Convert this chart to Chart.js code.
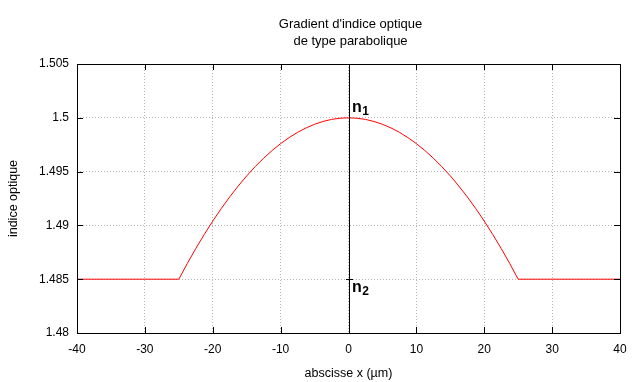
<!DOCTYPE html>
<html>
<head>
<meta charset="utf-8">
<script src="https://cdn.jsdelivr.net/npm/chart.js@4"></script>
<style>
html,body{margin:0;padding:0;background:#fff;}
#wrap{width:638px;height:382px;}
</style>
</head>
<body>
<div id="wrap"><canvas id="c" width="638" height="382"></canvas></div>
<script>
// Data
const titleLines = ["Gradient d'indice optique", "de type parabolique"];
const xTitle = "abscisse x (\u00b5m)";
const yTitle = "indice optique";
const xPositions = [-40, -25, -23.75, -22.5, -21.25, -20, -18.75, -17.5, -16.25, -15, -13.75, -12.5, -11.25,
                    -10, -8.75, -7.5, -6.25, -5, -3.75, -2.5, -1.25, 0,
                    1.25, 2.5, 3.75, 5, 6.25, 7.5, 8.75, 10, 11.25, 12.5, 13.75, 15, 16.25, 17.5, 18.75,
                    20, 21.25, 22.5, 23.75, 25, 40];
const indexValues = [1.485, 1.485, 1.48646, 1.48785, 1.48916, 1.4904, 1.49156, 1.49265, 1.49366, 1.4946, 1.49546, 1.49625, 1.49696,
                     1.4976, 1.49816, 1.49865, 1.49906, 1.4994, 1.49966, 1.49985, 1.49996, 1.5,
                     1.49996, 1.49985, 1.49966, 1.4994, 1.49906, 1.49865, 1.49816, 1.4976, 1.49696, 1.49625, 1.49546, 1.4946, 1.49366, 1.49265, 1.49156,
                     1.4904, 1.48916, 1.48785, 1.48646, 1.485, 1.485];
const xTicks = [-40, -30, -20, -10, 0, 10, 20, 30, 40];
const yTicks = [1.48, 1.485, 1.49, 1.495, 1.5, 1.505];
const annotations = [
  {x: 0, y: 1.5, base: "n", sub: "1", where: "above"},
  {x: 0, y: 1.485, base: "n", sub: "2", where: "below"}
];

const FONT = "'Liberation Sans', Arial, sans-serif";

const framePlugin = {
  id: 'frame',
  afterDraw(chart) {
    const {ctx, chartArea: a, scales} = chart;
    const xs = scales.x, ys = scales.y;
    ctx.save();
    // title
    ctx.fillStyle = '#000';
    ctx.font = '13px ' + FONT;
    ctx.textAlign = 'center';
    ctx.textBaseline = 'alphabetic';
    const cx = (a.left + a.right) / 2 + 2;
    ctx.fillText(titleLines[0], cx, 28);
    ctx.fillText(titleLines[1], cx, 45);
    // zero axis (vertical at x=0)
    ctx.strokeStyle = '#000';
    ctx.lineWidth = 1;
    const x0 = Math.round(xs.getPixelForValue(0)) + 0.5;
    ctx.beginPath();
    ctx.moveTo(x0, a.top);
    ctx.lineTo(x0, a.bottom);
    ctx.stroke();
    // border box
    ctx.strokeRect(Math.round(a.left) + 0.5, Math.round(a.top) + 0.5,
                   Math.round(a.right - a.left), Math.round(a.bottom - a.top));
    // inward ticks on all sides
    const tl = 6;
    ctx.beginPath();
    xTicks.forEach(v => {
      const px = Math.round(xs.getPixelForValue(v)) + 0.5;
      ctx.moveTo(px, a.bottom); ctx.lineTo(px, a.bottom - tl);
      ctx.moveTo(px, a.top); ctx.lineTo(px, a.top + tl);
    });
    yTicks.forEach(v => {
      const py = Math.round(ys.getPixelForValue(v)) + 0.5;
      ctx.moveTo(a.left, py); ctx.lineTo(a.left + tl, py);
      ctx.moveTo(a.right, py); ctx.lineTo(a.right - tl, py);
    });
    // small tick on zero axis at n2 level
    const py2 = Math.round(ys.getPixelForValue(annotations[1].y)) + 0.5;
    ctx.moveTo(x0 - 3.5, py2); ctx.lineTo(x0 + 3.5, py2);
    ctx.stroke();
    // n1 / n2 labels
    annotations.forEach(an => {
      const px = xs.getPixelForValue(an.x) + 3.5;
      const py = ys.getPixelForValue(an.y);
      const base = an.where === 'above' ? py - 5.5 : py + 13;
      ctx.textAlign = 'left';
      ctx.textBaseline = 'alphabetic';
      ctx.font = 'bold 16px ' + FONT;
      ctx.fillText(an.base, px, base);
      const w = ctx.measureText(an.base).width;
      ctx.font = 'bold 12px ' + FONT;
      ctx.fillText(an.sub, px + w + 0.5, base + 3);
    });
    ctx.restore();
  }
};

new Chart(document.getElementById('c'), {
  type: 'line',
  data: {
    datasets: [{
      data: xPositions.map((x, i) => ({x: x, y: indexValues[i]})),
      borderColor: '#ff0000',
      borderWidth: 1,
      pointRadius: 0,
      tension: 0,
      fill: false
    }]
  },
  options: {
    responsive: false,
    animation: false,
    devicePixelRatio: 1,
    layout: {padding: {top: 64, right: 18, left: 0, bottom: 0}},
    plugins: {legend: {display: false}, tooltip: {enabled: false}, title: {display: false}},
    scales: {
      x: {
        type: 'linear', min: -40, max: 40,
        afterBuildTicks(s) { s.ticks = xTicks.map(v => ({value: v})); },
        afterFit(s) { s.height = 49; },
        ticks: {color: '#000', font: {family: FONT, size: 12}, padding: 9, maxRotation: 0,
                callback: v => String(v)},
        grid: {color: '#b4b4b4', lineWidth: 1, drawTicks: false},
        border: {display: false, dash: [1, 2]},
        title: {display: true, text: xTitle, color: '#000', font: {family: FONT, size: 12.5},
                padding: {top: 0, bottom: 1}}
      },
      y: {
        type: 'linear', min: 1.48, max: 1.505,
        afterBuildTicks(s) { s.ticks = yTicks.map(v => ({value: v})); },
        afterFit(s) { s.width = 77; },
        ticks: {color: '#000', font: {family: FONT, size: 12}, padding: 8,
                callback: v => String(parseFloat(Number(v).toFixed(3)))},
        grid: {color: '#b4b4b4', lineWidth: 1, drawTicks: false},
        border: {display: false, dash: [1, 2]},
        title: {display: true, text: yTitle, color: '#000', font: {family: FONT, size: 12.5},
                padding: {top: 6, bottom: 0}}
      }
    }
  },
  plugins: [framePlugin]
});
</script>
</body>
</html>
